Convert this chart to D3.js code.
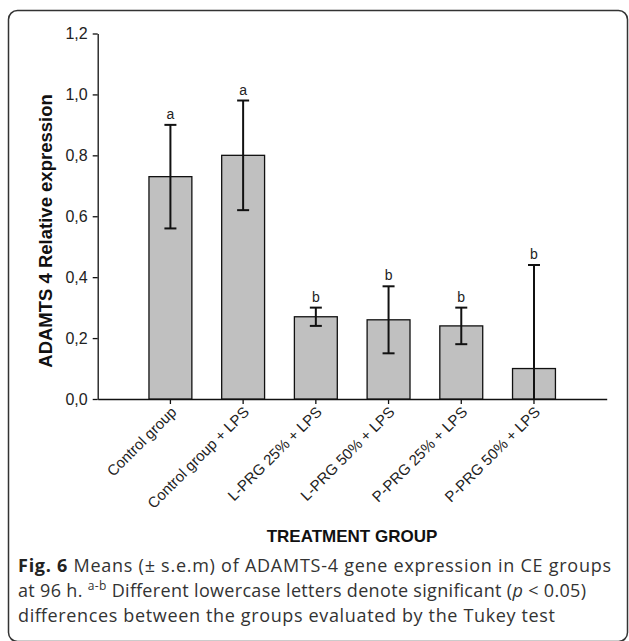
<!DOCTYPE html>
<html>
<head>
<meta charset="utf-8">
<script src="https://cdn.jsdelivr.net/npm/d3@7"></script>
<style>
  body { margin: 0; background: #fff; }
  svg { display: block; }
</style>
</head>
<body>
<div id="chart"></div>
<script>
var categories = ['Control group', 'Control group + LPS', 'L-PRG 25% + LPS', 'L-PRG 50% + LPS', 'P-PRG 25% + LPS', 'P-PRG 50% + LPS'];
var means = [0.73, 0.80, 0.27, 0.26, 0.24, 0.10];
var sem = [0.17, 0.18, 0.03, 0.11, 0.06, 0.34];
var letters = ['a', 'a', 'b', 'b', 'b', 'b'];
var yTicks = [0, 0.2, 0.4, 0.6, 0.8, 1.0, 1.2];

var width = 629, height = 641;
var font = 'Liberation Sans, Arial, sans-serif';
var svg = d3.select('#chart').append('svg').attr('width', width).attr('height', height);

// frame round the figure
svg.append('rect')
  .attr('x', 8.5).attr('y', 10.5)
  .attr('width', 619).attr('height', 631)
  .attr('rx', 9).attr('ry', 9)
  .attr('fill', 'none').attr('stroke', '#333').attr('stroke-width', 1.5);

var y = d3.scaleLinear().domain([0, 1.2]).range([399, 33.5]);
var x = d3.scaleBand().domain(categories).range([97.7, 606.7])
  .paddingInner(0.41).paddingOuter((1 + 0.41) / 2);

var yAxis = svg.append('g')
  .attr('transform', 'translate(97.7,0)')
  .call(d3.axisLeft(y).tickValues(yTicks).tickSize(5).tickSizeOuter(0).tickPadding(5)
    .tickFormat(function(d) { return d.toFixed(1).replace('.', ','); }));
yAxis.attr('font-family', font).attr('font-size', 16);
yAxis.selectAll('text').attr('fill', '#222');

var xAxis = svg.append('g')
  .attr('transform', 'translate(0,399)')
  .call(d3.axisBottom(x).tickSize(5).tickSizeOuter(0));
xAxis.attr('font-family', font).attr('font-size', 15);
xAxis.selectAll('text')
  .attr('fill', '#222')
  .attr('text-anchor', 'end')
  .attr('dy', null)
  .attr('y', 0)
  .attr('transform', 'translate(7,14) rotate(-45)');

svg.selectAll('.domain, .tick line').attr('stroke', '#111').attr('stroke-width', 1.3);

var bars = svg.append('g');
bars.selectAll('rect')
  .data(means)
  .enter()
  .append('rect')
  .attr('x', function(d, i) { return x(categories[i]); })
  .attr('y', function(d) { return y(d); })
  .attr('width', x.bandwidth())
  .attr('height', function(d) { return y(0) - y(d); })
  .attr('fill', '#c0c0c0')
  .attr('stroke', '#111')
  .attr('stroke-width', 1.3);

// error bars (lower end cut at zero)
var err = svg.append('g').attr('stroke', '#111').attr('stroke-width', 2);
means.forEach(function(m, i) {
  var cx = x(categories[i]) + x.bandwidth() / 2;
  var hi = m + sem[i];
  var lo = Math.max(0, m - sem[i]);
  err.append('line').attr('x1', cx).attr('x2', cx).attr('y1', y(hi)).attr('y2', y(lo));
  err.append('line').attr('x1', cx - 6).attr('x2', cx + 6).attr('y1', y(hi)).attr('y2', y(hi));
  if (lo > 0) {
    err.append('line').attr('x1', cx - 6).attr('x2', cx + 6).attr('y1', y(lo)).attr('y2', y(lo));
  }
  svg.append('text')
    .attr('x', cx).attr('y', y(hi) - 6)
    .attr('text-anchor', 'middle')
    .attr('font-family', font).attr('font-size', 14).attr('fill', '#222')
    .text(letters[i]);
});

svg.append('text')
  .attr('transform', 'translate(52,231) rotate(-90)')
  .attr('text-anchor', 'middle')
  .attr('font-family', font).attr('font-size', 18.5).attr('font-weight', 'bold').attr('fill', '#111')
  .text('ADAMTS 4 Relative expression');

svg.append('text')
  .attr('x', 352).attr('y', 542)
  .attr('text-anchor', 'middle')
  .attr('font-family', font).attr('font-size', 17).attr('font-weight', 'bold').attr('fill', '#111')
  .text('TREATMENT GROUP');

// caption, each line stretched to the width it has in the figure
var cap = svg.append('g')
  .attr('font-family', 'Open Sans, Noto Sans, sans-serif').attr('font-size', 18).attr('fill', '#333');
var l1 = cap.append('text').attr('x', 18).attr('y', 572)
  .attr('textLength', 593).attr('lengthAdjust', 'spacing');
l1.append('tspan').attr('font-weight', 'bold').attr('fill', '#222').text('Fig. 6');
l1.append('tspan').text(' Means (\u00b1 s.e.m) of ADAMTS-4 gene expression in CE groups');
var l2 = cap.append('text').attr('x', 18).attr('y', 597)
  .attr('textLength', 568).attr('lengthAdjust', 'spacing');
l2.append('tspan').text('at 96 h. ');
l2.append('tspan').attr('font-size', 12).attr('dy', -7).text('a-b');
l2.append('tspan').attr('dy', 7).text(' Different lowercase letters denote significant (');
l2.append('tspan').attr('font-style', 'italic').text('p');
l2.append('tspan').text(' < 0.05)');
cap.append('text').attr('x', 18).attr('y', 622)
  .attr('textLength', 537).attr('lengthAdjust', 'spacing')
  .text('differences between the groups evaluated by the Tukey test');
</script>
</body>
</html>
